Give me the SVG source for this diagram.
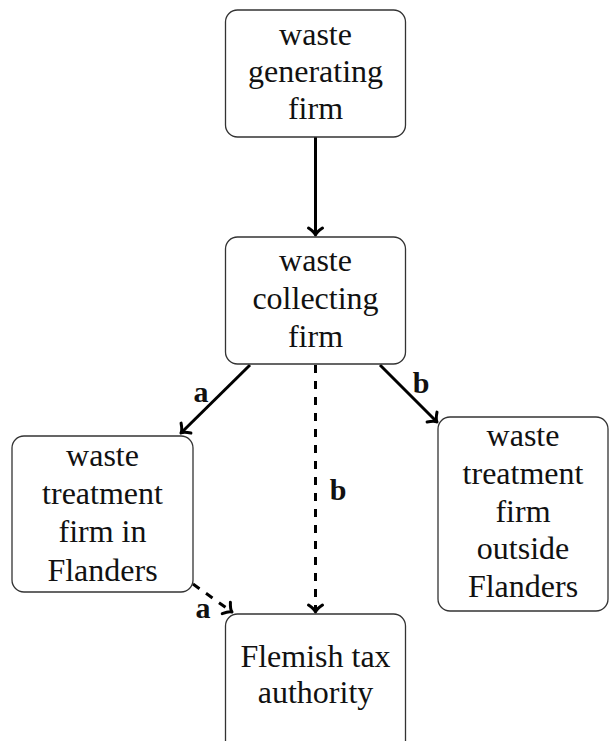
<svg xmlns="http://www.w3.org/2000/svg" width="609" height="741" viewBox="0 0 609 741">
<style>
.box{fill:#fff;stroke:#333;stroke-width:1.3}
.t{font-family:"Liberation Serif","DejaVu Serif",serif;font-size:32px;fill:#111;text-anchor:middle}
.lbl{font-family:"Liberation Serif","DejaVu Serif",serif;font-size:30px;font-weight:bold;fill:#111;text-anchor:middle}
.e{fill:none;stroke:#000;stroke-width:3;marker-end:url(#arr)}
.d{stroke-dasharray:8 8}
</style>
<defs>
<marker id="arr" markerUnits="userSpaceOnUse" markerWidth="20" markerHeight="20" refX="0" refY="0" viewBox="-10 -10 20 20" orient="auto" overflow="visible">
<path d="M-7,-7 Q-3,-1 0,0 Q-3,1 -7,7" fill="none" stroke="#000" stroke-width="3" stroke-linecap="round" stroke-linejoin="round"/>
</marker>
</defs>
<g id="connectors">
<line class="e" x1="315.5" y1="137" x2="315.5" y2="235"/>
<line class="e" x1="250" y1="365" x2="181" y2="433"/>
<line class="e" x1="380" y1="365" x2="437" y2="422"/>
<line class="e d" x1="315.5" y1="365" x2="315.5" y2="612"/>
<line class="e d" x1="193" y1="584" x2="232" y2="612"/>
<text class="lbl" x="201" y="402">a</text>
<text class="lbl" x="421" y="393">b</text>
<text class="lbl" x="338" y="500">b</text>
<text class="lbl" x="203" y="618">a</text>
</g>
<g id="n1">
<rect class="box" x="225.5" y="10" width="180" height="127" rx="12"/>
<text class="t" x="315.5" y="45">waste</text>
<text class="t" x="315.5" y="82">generating</text>
<text class="t" x="315.5" y="119">firm</text>
</g>
<g id="n2">
<rect class="box" x="225.5" y="237" width="180" height="127" rx="12"/>
<text class="t" x="315.5" y="271">waste</text>
<text class="t" x="315.5" y="309">collecting</text>
<text class="t" x="315.5" y="347">firm</text>
</g>
<g id="n3">
<rect class="box" x="12" y="436" width="181" height="156" rx="12"/>
<text class="t" x="102.5" y="466">waste</text>
<text class="t" x="102.5" y="504">treatment</text>
<text class="t" x="102.5" y="542">firm in</text>
<text class="t" x="102.5" y="581">Flanders</text>
</g>
<g id="n4">
<rect class="box" x="438" y="417" width="170" height="194" rx="12"/>
<text class="t" x="523" y="446">waste</text>
<text class="t" x="523" y="484">treatment</text>
<text class="t" x="523" y="522">firm</text>
<text class="t" x="523" y="559">outside</text>
<text class="t" x="523" y="597">Flanders</text>
</g>
<g id="n5">
<rect class="box" x="225.5" y="614" width="180" height="140" rx="12"/>
<text class="t" x="315.5" y="667">Flemish tax</text>
<text class="t" x="315.5" y="703">authority</text>
</g>
</svg>
